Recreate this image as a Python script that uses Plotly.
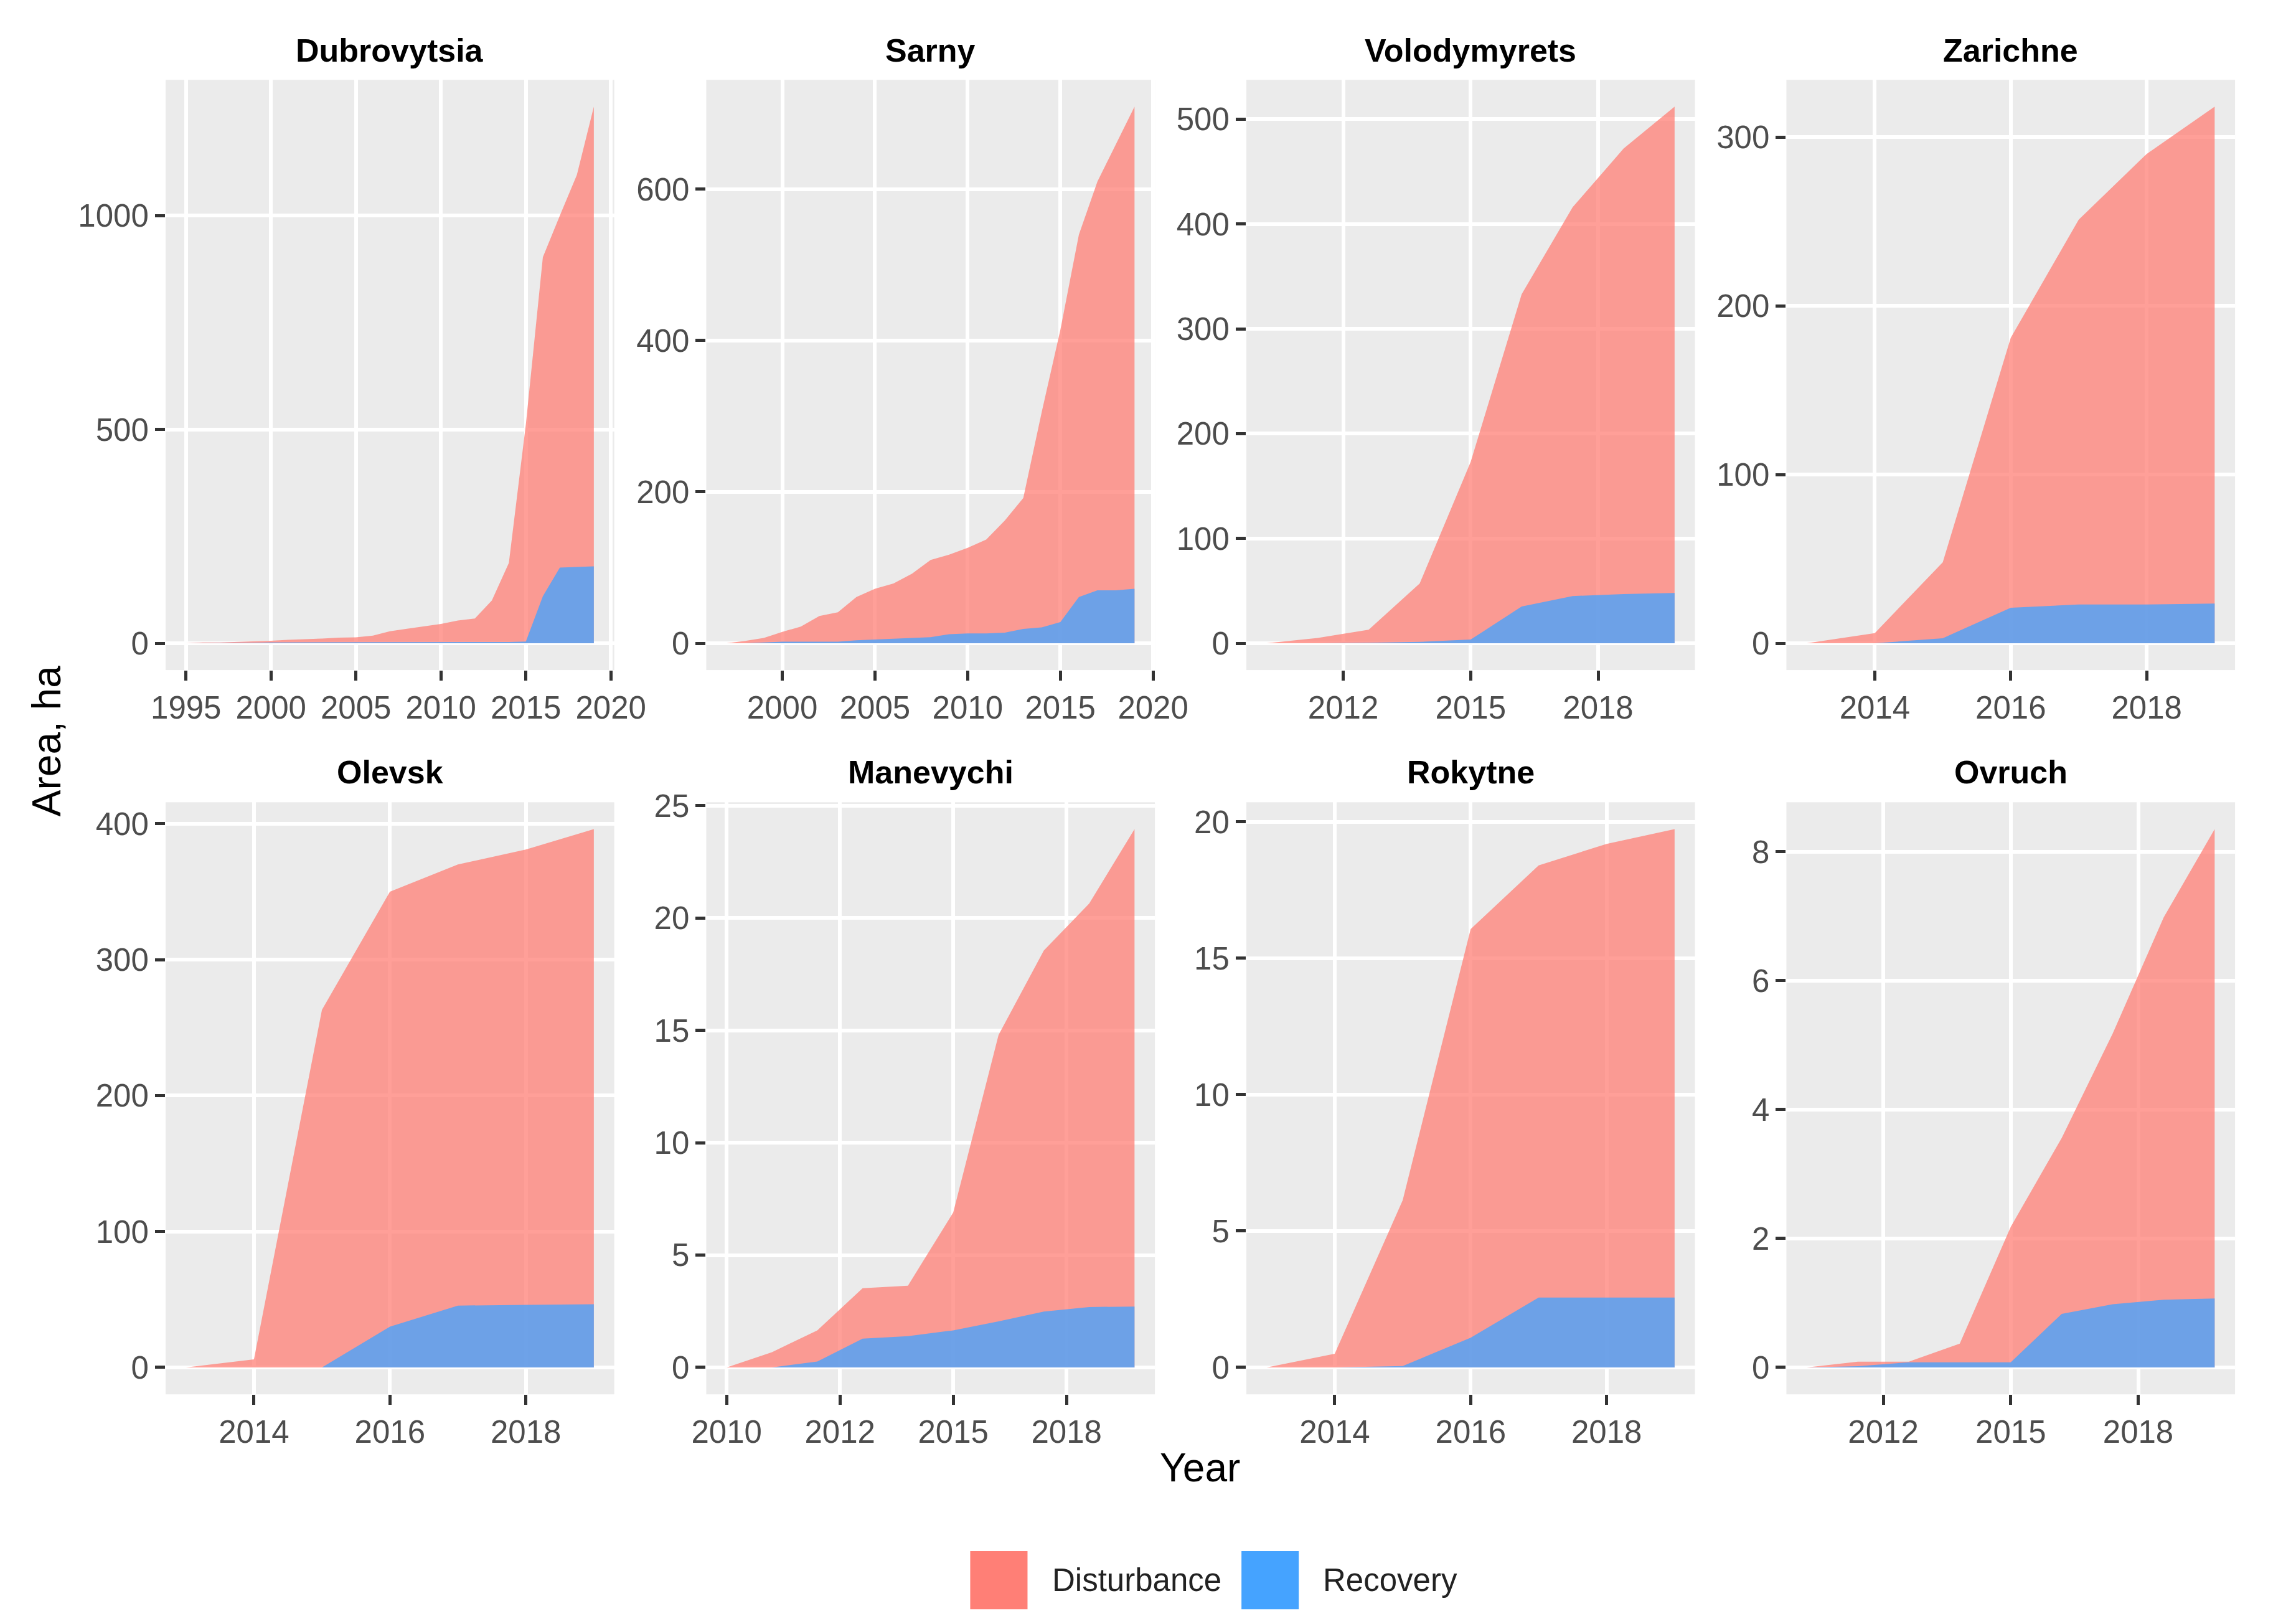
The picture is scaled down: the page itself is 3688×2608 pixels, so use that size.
import plotly.graph_objects as go

FONT = "Liberation Sans, Arial, sans-serif"
W, H = 3688, 2608

districts = ["Dubrovytsia", "Sarny", "Volodymyrets", "Zarichne",
             "Olevsk", "Manevychi", "Rokytne", "Ovruch"]

# ---------------- data (area, ha) ----------------
dubrovytsia_years = [1995, 1996, 1997, 1998, 1999, 2000, 2001, 2002, 2003, 2004,
                     2005, 2006, 2007, 2008, 2009, 2010, 2011, 2012, 2013, 2014,
                     2015, 2016, 2017, 2018, 2019]
dubrovytsia_disturbance = [0, 2, 2, 3, 4, 6, 8, 9, 11, 13,
                           14, 18, 28, 34, 39, 45, 53, 58, 100, 188,
                           512, 903, 1000, 1095, 1255]
dubrovytsia_recovery = [0, 0, 0, 1, 1, 2, 2, 2, 2, 2,
                        2, 2, 2, 2, 2, 2, 2, 2, 3, 3,
                        4, 110, 177, 178, 180]

sarny_years = [1997, 1998, 1999, 2000, 2001, 2002, 2003, 2004, 2005, 2006,
               2007, 2008, 2009, 2010, 2011, 2012, 2013, 2014, 2015, 2016,
               2017, 2018, 2019]
sarny_disturbance = [0, 3, 7, 15, 22, 36, 41, 61, 72, 79,
                     92, 110, 117, 126, 137, 162, 192, 306, 414, 540,
                     610, 660, 709]
sarny_recovery = [0, 0, 1, 2, 2, 2, 2, 4, 5, 6,
                  7, 8, 12, 13, 13, 14, 19, 21, 28, 61,
                  70, 70, 72]

volodymyrets_years = [2011, 2012, 2013, 2014, 2015, 2016, 2017, 2018, 2019]
volodymyrets_disturbance = [0, 5, 13, 57, 173, 333, 416, 472, 512]
volodymyrets_recovery = [0, 0, 0.5, 1.3, 3.5, 35, 45, 47, 48]

zarichne_years = [2013, 2014, 2015, 2016, 2017, 2018, 2019]
zarichne_disturbance = [0, 6, 48, 181, 251, 290, 318]
zarichne_recovery = [0, 0, 3, 21, 23, 23, 23.5]

olevsk_years = [2013, 2014, 2015, 2016, 2017, 2018, 2019]
olevsk_disturbance = [0, 6, 263, 350, 370, 381, 396]
olevsk_recovery = [0, 0, 0, 30, 45.5, 46, 46.5]

manevychi_years = [2010, 2011, 2012, 2013, 2014, 2015, 2016, 2017, 2018, 2019]
manevychi_disturbance = [0, 0.68, 1.65, 3.53, 3.64, 6.9, 14.8, 18.56, 20.65, 23.96]
manevychi_recovery = [0, 0, 0.26, 1.28, 1.39, 1.65, 2.05, 2.49, 2.69, 2.71]

rokytne_years = [2013, 2014, 2015, 2016, 2017, 2018, 2019]
rokytne_disturbance = [0, 0.5, 6.13, 16.07, 18.4, 19.19, 19.73]
rokytne_recovery = [0, 0, 0.05, 1.09, 2.56, 2.56, 2.56]

ovruch_years = [2011, 2012, 2013, 2014, 2015, 2016, 2017, 2018, 2019]
ovruch_disturbance = [0, 0.09, 0.09, 0.37, 2.18, 3.56, 5.18, 6.98, 8.35]
ovruch_recovery = [0, 0.02, 0.08, 0.08, 0.08, 0.83, 0.98, 1.05, 1.07]

# ---------------- tick breaks / labels ----------------
dubrovytsia_xticks = [1995, 2000, 2005, 2010, 2015, 2020]
dubrovytsia_xlabels = ["1995", "2000", "2005", "2010", "2015", "2020"]
dubrovytsia_yticks = [0, 500, 1000]

sarny_xticks = [2000, 2005, 2010, 2015, 2020]
sarny_xlabels = ["2000", "2005", "2010", "2015", "2020"]
sarny_yticks = [0, 200, 400, 600]

volodymyrets_xticks = [2012.5, 2015, 2017.5]
volodymyrets_xlabels = ["2012", "2015", "2018"]
volodymyrets_yticks = [0, 100, 200, 300, 400, 500]

zarichne_xticks = [2014, 2016, 2018]
zarichne_xlabels = ["2014", "2016", "2018"]
zarichne_yticks = [0, 100, 200, 300]

olevsk_xticks = [2014, 2016, 2018]
olevsk_xlabels = ["2014", "2016", "2018"]
olevsk_yticks = [0, 100, 200, 300, 400]

manevychi_xticks = [2010, 2012.5, 2015, 2017.5]
manevychi_xlabels = ["2010", "2012", "2015", "2018"]
manevychi_yticks = [0, 5, 10, 15, 20, 25]

rokytne_xticks = [2014, 2016, 2018]
rokytne_xlabels = ["2014", "2016", "2018"]
rokytne_yticks = [0, 5, 10, 15, 20]

ovruch_xticks = [2012.5, 2015, 2017.5]
ovruch_xlabels = ["2012", "2015", "2018"]
ovruch_yticks = [0, 2, 4, 6, 8]

panels = [
    (dubrovytsia_years, dubrovytsia_disturbance, dubrovytsia_recovery,
     dubrovytsia_xticks, dubrovytsia_xlabels, dubrovytsia_yticks),
    (sarny_years, sarny_disturbance, sarny_recovery,
     sarny_xticks, sarny_xlabels, sarny_yticks),
    (volodymyrets_years, volodymyrets_disturbance, volodymyrets_recovery,
     volodymyrets_xticks, volodymyrets_xlabels, volodymyrets_yticks),
    (zarichne_years, zarichne_disturbance, zarichne_recovery,
     zarichne_xticks, zarichne_xlabels, zarichne_yticks),
    (olevsk_years, olevsk_disturbance, olevsk_recovery,
     olevsk_xticks, olevsk_xlabels, olevsk_yticks),
    (manevychi_years, manevychi_disturbance, manevychi_recovery,
     manevychi_xticks, manevychi_xlabels, manevychi_yticks),
    (rokytne_years, rokytne_disturbance, rokytne_recovery,
     rokytne_xticks, rokytne_xlabels, rokytne_yticks),
    (ovruch_years, ovruch_disturbance, ovruch_recovery,
     ovruch_xticks, ovruch_xlabels, ovruch_yticks),
]

series_names = ["Disturbance", "Recovery"]
key_colors = ["#FF7F76", "#45A3FF"]
area_colors = ["rgba(255,127,118,0.75)", "rgba(69,163,255,0.78)"]

# ---------------- layout geometry (pixels) ----------------
col_left = [240, 1127, 2013, 2899]
panel_w = 736
row_top = [99, 1269]
panel_h = [956, 959]

fig = go.Figure()
layout = dict(
    width=W, height=H,
    margin=dict(l=0, r=0, t=0, b=0),
    paper_bgcolor="white", plot_bgcolor="#EBEBEB",
    showlegend=False,
    font=dict(family=FONT),
)
annotations = []
shapes = []

for i, (yrs, dist, rec, xt, xl, yt) in enumerate(panels):
    k = i + 1
    r, c = divmod(i, 4)
    x0 = col_left[c] / W
    x1 = (col_left[c] + panel_w) / W
    y1 = 1 - row_top[r] / H
    y0 = 1 - (row_top[r] + panel_h[r]) / H
    xs = "x" if k == 1 else f"x{k}"
    ys = "y" if k == 1 else f"y{k}"

    for vals, nm, col in ((dist, series_names[0], area_colors[0]),
                          (rec, series_names[1], area_colors[1])):
        fig.add_trace(go.Scatter(
            x=yrs, y=vals, name=nm, mode="lines", fill="tozeroy",
            fillcolor=col, line=dict(width=0, color=col),
            xaxis=xs, yaxis=ys, showlegend=False, hoverinfo="skip"))

    span = max(yrs) - min(yrs)
    xr = [min(yrs) - 0.05 * span, max(yrs) + 0.05 * span]
    ymax = max(dist)
    yr = [-0.05 * ymax, 1.05 * ymax]

    common = dict(showgrid=True, gridcolor="white", gridwidth=6,
                  zeroline=False, showline=False, ticks="outside",
                  ticklen=16, tickwidth=5, tickcolor="#333333",
                  tickfont=dict(size=51, color="#4D4D4D", family=FONT),
                  fixedrange=True)
    layout["xaxis" if k == 1 else f"xaxis{k}"] = dict(
        domain=[x0, x1], range=xr, anchor=ys, tickmode="array",
        tickvals=xt, ticktext=xl, **common)
    layout["yaxis" if k == 1 else f"yaxis{k}"] = dict(
        domain=[y0, y1], range=yr, anchor=xs, tickmode="array",
        tickvals=yt, ticktext=[str(v) for v in yt], **common)

    title_y = [51, 1220][r]
    annotations.append(dict(
        text=f"<b>{districts[i]}</b>", x=(x0 + x1) / 2, y=1 - title_y / H,
        xref="paper", yref="paper", xanchor="center", yanchor="middle",
        showarrow=False, font=dict(size=52, color="black", family=FONT)))

# axis titles
annotations.append(dict(text="Year", x=1937 / W, y=1 - 2347 / H,
                        xref="paper", yref="paper", xanchor="center",
                        yanchor="middle", showarrow=False,
                        font=dict(size=64, color="black", family=FONT)))
annotations.append(dict(text="Area, ha", x=45 / W, y=1 - 1170 / H,
                        xref="paper", yref="paper", xanchor="center",
                        yanchor="middle", textangle=-90, showarrow=False,
                        font=dict(size=64, color="black", family=FONT)))

# legend (manual, ggplot style)
key_x = [1560, 2005]
text_x = [1692, 2137]
key_top, key_size = 2482, 94
for j in range(2):
    shapes.append(dict(type="rect", xref="paper", yref="paper",
                       x0=key_x[j] / W, x1=(key_x[j] + key_size) / W,
                       y0=1 - (key_top + key_size) / H, y1=1 - key_top / H,
                       fillcolor=key_colors[j], line=dict(width=0)))
    annotations.append(dict(text=series_names[j], x=text_x[j] / W,
                            y=1 - (key_top + key_size / 2) / H,
                            xref="paper", yref="paper", xanchor="left",
                            yanchor="middle", showarrow=False,
                            font=dict(size=51, color="#222222", family=FONT)))

layout["annotations"] = annotations
layout["shapes"] = shapes
fig.update_layout(**layout)
fig.write_html("out.html")
